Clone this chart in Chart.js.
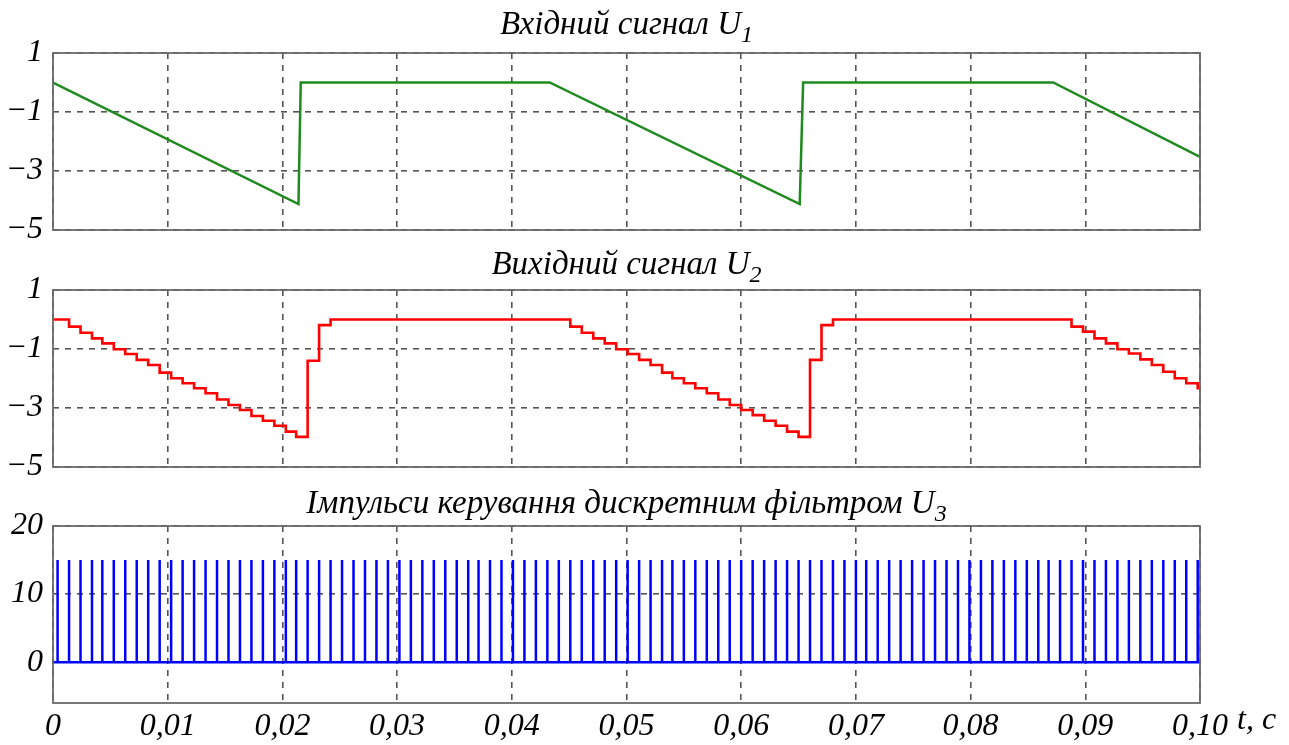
<!DOCTYPE html>
<html>
<head>
<meta charset="utf-8">
<script src="https://cdn.jsdelivr.net/npm/chart.js@4/dist/chart.umd.min.js"></script>
<style>
  body { margin: 0; background: #fff; }
  #wrap { position: relative; width: 1289px; height: 745px; }
  #wrap canvas { position: absolute; left: 0; top: 0; }
</style>
</head>
<body>
<div id="wrap">
  <canvas id="c1" width="1289" height="745"></canvas>
  <canvas id="c2" width="1289" height="745"></canvas>
  <canvas id="c3" width="1289" height="745"></canvas>
</div>
<script>
// x axis
const xTickValues = [0, 0.01, 0.02, 0.03, 0.04, 0.05, 0.06, 0.07, 0.08, 0.09, 0.1];
const xTickLabels = ['0', '0,01', '0,02', '0,03', '0,04', '0,05', '0,06', '0,07', '0,08', '0,09', '0,10'];
const yTicksU = [1, -1, -3, -5];
const yTicksPulse = [20, 10, 0];

// input signal U1 (green)
const greenTimes = [0, 0.0214, 0.0216, 0.0433, 0.0651, 0.0654, 0.0872, 0.1];
const greenValues = [0, -4.12, 0, 0, -4.12, 0, 0, -2.52];

// control pulses U3 (blue), times of each pulse
const pulseTimes = [
  0.0004, 0.0014, 0.0024, 0.0034, 0.0043, 0.0053, 0.0063, 0.0073, 0.0083, 0.0093,
  0.0103, 0.0113, 0.0123, 0.0133, 0.0143, 0.0153, 0.0163, 0.0173, 0.0183, 0.0193,
  0.0203, 0.0212, 0.0222, 0.0232, 0.0242, 0.0252, 0.0262, 0.0272, 0.0282, 0.0292,
  0.0302, 0.0312, 0.0322, 0.0332, 0.0342, 0.0352, 0.0362, 0.0371, 0.0381, 0.0391,
  0.0401, 0.0411, 0.0421, 0.0431, 0.0441, 0.0451, 0.0461, 0.0471, 0.0481, 0.0491,
  0.0501, 0.0511, 0.0521, 0.0531, 0.0540, 0.0550, 0.0560, 0.0570, 0.0580, 0.0590,
  0.0600, 0.0610, 0.0620, 0.0630, 0.0640, 0.0650, 0.0660, 0.0670, 0.0680, 0.0690,
  0.0700, 0.0709, 0.0719, 0.0729, 0.0739, 0.0749, 0.0759, 0.0769, 0.0779, 0.0789,
  0.0799, 0.0809, 0.0819, 0.0829, 0.0839, 0.0849, 0.0859, 0.0868, 0.0878, 0.0888,
  0.0898, 0.0908, 0.0918, 0.0928, 0.0938, 0.0948, 0.0958, 0.0968, 0.0978, 0.0988,
  0.0998
];
const pulseHeight = 15;

// output signal U2 (red), level held from each pulse
const redLevels = [
  0, -0.24, -0.45, -0.64, -0.81, -1.01, -1.17, -1.37, -1.54, -1.80,
  -1.99, -2.16, -2.33, -2.50, -2.71, -2.90, -3.07, -3.27, -3.43, -3.60,
  -3.80, -3.98, -1.40, -0.19, 0, 0, 0, 0, 0, 0,
  0, 0, 0, 0, 0, 0, 0, 0, 0, 0,
  0, 0, 0, 0, 0, -0.24, -0.45, -0.64, -0.81, -1.01,
  -1.17, -1.37, -1.54, -1.80, -1.99, -2.16, -2.33, -2.50, -2.71, -2.90,
  -3.07, -3.24, -3.43, -3.60, -3.80, -3.98, -1.37, -0.19, 0, 0,
  0, 0, 0, 0, 0, 0, 0, 0, 0, 0,
  0, 0, 0, 0, 0, 0, 0, 0, 0, -0.24,
  -0.41, -0.64, -0.81, -1.01, -1.15, -1.35, -1.54, -1.77, -1.99, -2.16,
  -2.33
];

const serif = '"Liberation Serif", "Times New Roman", serif';
const gridColor = '#555';

const panelDecor = {
  id: 'panelDecor',
  afterDraw(chart, args, opts) {
    const ctx = chart.ctx;
    const area = chart.chartArea;
    ctx.save();
    // frame
    ctx.strokeStyle = '#6a6a6a';
    ctx.lineWidth = 1.8;
    ctx.strokeRect(area.left, area.top, area.right - area.left, area.bottom - area.top);
    // title with subscript
    ctx.fillStyle = '#000';
    ctx.textBaseline = 'alphabetic';
    ctx.font = 'italic ' + opts.size + 'px ' + serif;
    const w1 = ctx.measureText(opts.text).width;
    ctx.font = 'italic 24px ' + serif;
    const w2 = ctx.measureText(opts.sub).width;
    const x = (area.left + area.right) / 2 - (w1 + w2) / 2;
    ctx.font = 'italic ' + opts.size + 'px ' + serif;
    ctx.textAlign = 'left';
    ctx.fillText(opts.text, x, opts.baseline);
    ctx.font = 'italic 24px ' + serif;
    ctx.fillText(opts.sub, x + w1, opts.baseline + 8);
    if (opts.unit) {
      ctx.font = 'italic 32px ' + serif;
      ctx.textBaseline = 'middle';
      ctx.fillText(opts.unit, 1237, 721);
    }
    ctx.restore();
  }
};

function makePanel(id, datasets, yMin, yMax, yTicks, cfg) {
  return new Chart(document.getElementById(id), {
    type: 'line',
    data: { datasets: datasets },
    plugins: [panelDecor],
    options: {
      responsive: false,
      animation: false,
      events: [],
      layout: { padding: { left: 0, right: 89, top: cfg.top, bottom: cfg.bottom } },
      elements: { point: { radius: 0 }, line: { tension: 0, borderCapStyle: 'butt' } },
      plugins: {
        legend: { display: false },
        tooltip: { enabled: false },
        panelDecor: { text: cfg.title, sub: cfg.sub, baseline: cfg.titleY, size: cfg.titleSize, unit: cfg.unit }
      },
      scales: {
        x: {
          type: 'linear',
          min: 0,
          max: 0.1,
          afterBuildTicks: s => { s.ticks = xTickValues.map(v => ({ value: v })); },
          afterFit: s => { s.height = cfg.showX ? 42 : 0; },
          grid: { color: gridColor, lineWidth: 1.6, drawTicks: false },
          border: { display: false, dash: [6, 6] },
          ticks: {
            display: cfg.showX,
            padding: 4,
            maxRotation: 0,
            autoSkip: false,
            color: '#000',
            font: { family: serif, size: 32, style: 'italic' },
            callback: (v, i) => xTickLabels[i]
          }
        },
        y: {
          min: yMin,
          max: yMax,
          afterBuildTicks: s => { s.ticks = yTicks.map(v => ({ value: v })); },
          afterFit: s => { s.width = 53; },
          grid: { color: gridColor, lineWidth: 1.6, drawTicks: false },
          border: { display: false, dash: [6, 6] },
          ticks: {
            padding: 10,
            color: '#000',
            font: { family: serif, size: 32, style: 'italic', lineHeight: 1 },
            callback: v => String(v).replace('-', '\u2212')
          }
        }
      }
    }
  });
}

// green input
const greenData = greenTimes.map((t, i) => ({ x: t, y: greenValues[i] }));

// red output: sample-and-hold at each pulse
const redData = [{ x: 0, y: 0 }];
pulseTimes.forEach((t, i) => redData.push({ x: t, y: redLevels[i] }));
redData.push({ x: 0.1, y: redLevels[redLevels.length - 1] });

// blue pulses
const blueData = [{ x: 0, y: 0 }];
pulseTimes.forEach(t => {
  blueData.push({ x: t, y: 0 }, { x: t, y: pulseHeight }, { x: t, y: 0 });
});
blueData.push({ x: 0.1, y: 0 });

makePanel('c1', [{ data: greenData, borderColor: '#1f8a1f', borderWidth: 2.5 }], -5, 1, yTicksU,
  { top: 53, bottom: 515, title: 'Вхідний сигнал U', sub: '1', titleY: 34, titleSize: 33, showX: false });

makePanel('c2', [{ data: redData, borderColor: '#ff0000', borderWidth: 2.6, stepped: true }], -5, 1, yTicksU,
  { top: 290, bottom: 278, title: 'Вихідний сигнал U', sub: '2', titleY: 274, titleSize: 33, showX: false });

makePanel('c3', [{ data: blueData, borderColor: '#0000ff', borderWidth: 2.5, borderJoinStyle: 'bevel' }], -6, 20, yTicksPulse,
  { top: 526, bottom: 0, title: 'Імпульси керування дискретним фільтром U', sub: '3', titleY: 513, titleSize: 33, showX: true, unit: 't, c' });
</script>
</body>
</html>
